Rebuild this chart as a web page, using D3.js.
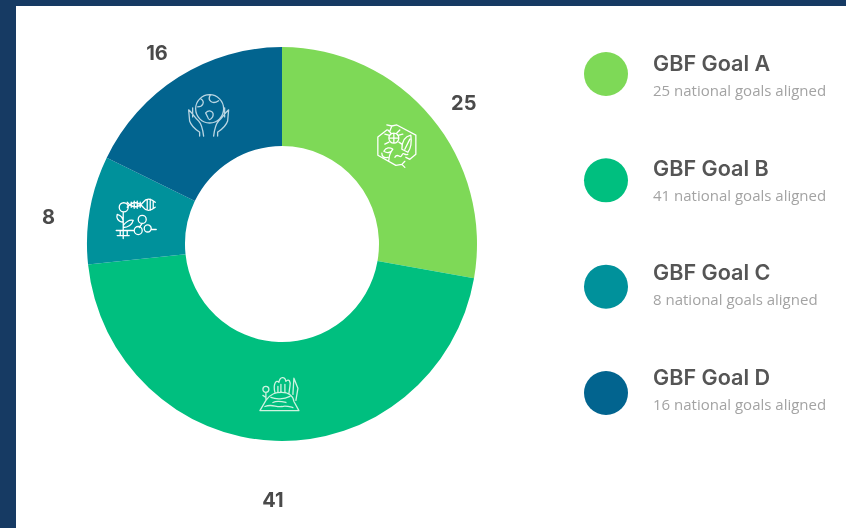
<!DOCTYPE html>
<html>
<head>
<meta charset="utf-8">
<script src="https://cdn.jsdelivr.net/npm/d3@7"></script>
<style>
    html, body { margin: 0; padding: 0; background: #fff; }
    svg { display: block; filter: blur(.4px); }
</style>
</head>
<body>
<svg id="chart" width="846" height="528"></svg>
<script>
const goals = ['GBF Goal A', 'GBF Goal B', 'GBF Goal C', 'GBF Goal D'];
const values = [25, 41, 8, 16];
const captions = ['25 national goals aligned', '41 national goals aligned', '8 national goals aligned', '16 national goals aligned'];
const colours = ['#7ed957', '#00bf7f', '#00919b', '#02648f'];

const width = 846, height = 528;
const centre = {x: 282, y: 244};
const outer = 195, inner = 97;

// line art for the slices, drawn around 0,0
const icons = [
    // hexagon with arrows, bee, leaf
    'M-5,-19 L0,-20 L19,-10 L19,9 L13,14 M-19,-8 L-19,10 L-1,20 L5,19 M-19,-8 L-10,-15 M-10,-20 L-5,-19 L-7,-14 M8,16 L5,19 L8,22 M13,14 L9,12 ' +
    'M-8,-7 a5,5 0 1 0 10,0 a5,5 0 1 0 -10,0 M-3,-12 L-3,-2 M-8,-7 L2,-7 M-6,-12 L-9,-15 M0,-12 L3,-15 M-8,-3 L-12,-1 M2,-3 L5,-1 M-8,-10 L-12,-11 M2,-10 L6,-11 ' +
    'M5,4 C5,-5 9,-9 14,-10 C15,-3 15,2 11,7 Z M8,4 L13,-6 M-13,6 C-11,2 -7,2 -4,4 C-6,8 -10,8 -13,6 Z M-8,15 C-8,10 -7,8 -4,4 M-9,12 C-13,13 -15,11 -15,8 ' +
    'M-2,12 C1,7 3,14 5,10 C7,6 8,11 11,9',
    // mound with trees
    'M-19,18 L-13,8 C-8,1 -3,0 3,0 C9,0 14,3 15,9 L20,18 Z M-8,5 C-3,7 5,7 11,4 M-14,14 C-7,11 -3,15 3,14 C7,13 10,14 14,15 M-6,10 C-2,8 3,9 7,10 ' +
    'M-4,0 C-6,-8 -3,-13 0,-10 C1,-16 6,-16 7,-11 C10,-14 12,-11 11,-6 L10,1 M14,2 L15,-14 L19,-4 L17,8 M2,-8 L2,0 M6,-8 L6,0 M-1,-6 L-1,0 ' +
    'M-16,-3 a3,3 0 1 0 6,0 a3,3 0 1 0 -6,0 M-13,0 L-13,7 M-16,3 L-13,5',
    // dna, plant, molecules
    'M-9,-17 C-4,-11 2,-11 7,-17 C10,-21 14,-21 19,-17 M-9,-12 C-4,-18 2,-18 7,-12 C10,-8 14,-8 19,-12 M-5,-17 L-5,-12 M-2,-18 L-2,-11 M1,-18 L1,-11 M4,-17 L4,-12 M11,-19 L11,-10 M14,-20 L14,-9 M17,-18 L17,-11 ' +
    'M-17,-12 a4.5,4.5 0 1 0 9,0 a4.5,4.5 0 1 0 -9,0 M-13,-7 L-13,19 M-13,3 C-19,2 -20,-2 -19,-5 C-15,-4 -13,-1 -13,3 M-13,6 C-9,1 -6,0 -3,1 C-4,5 -8,8 -13,8 M-20,11 L-3,11 M-19,16 L-7,16 M-16,11 L-16,16 M-9,11 L-9,16 ' +
    'M2,0 a4,4 0 1 0 8,0 a4,4 0 1 0 -8,0 M-2,11 a4,4 0 1 0 8,0 a4,4 0 1 0 -8,0 M8,9 a3.5,3.5 0 1 0 7,0 a3.5,3.5 0 1 0 -7,0 M15,10 L20,10 M6,4 L3,8',
    // globe held in two hands
    'M-13,-7 a14,14 0 1 0 28,0 a14,14 0 1 0 -28,0 M-8,-17 C-3,-14 -6,-9 -11,-9 M2,-21 C-2,-15 4,-11 10,-15 M-3,-3 C1,-7 6,-4 4,1 C2,4 0,5 -1,1 Z ' +
    'M-20,-6 L-19,5 C-17,11 -12,14 -9,16 L-9,20 M-20,-6 C-16,-3 -14,2 -10,5 C-7,8 -6,12 -5,20 M-16,-8 L-16,1 ' +
    'M20,-6 L19,5 C17,11 12,14 9,16 L9,20 M20,-6 C16,-3 14,2 10,5 C7,8 6,12 5,20 M16,-8 L16,1'
];
const iconStroke = ['#fff', '#cdf3e0', '#fff', '#b9d5e2'];
const iconNudge = [[3, -4], [2, 1], [-2, 1], [4, -3]];
const labelNudge = [[4, 9], [-1, -2], [-5, 13], [-2, 8]];

const svg = d3.select('#chart');

// frame
svg.append('rect').attr('width', width).attr('height', height).attr('fill', '#163a63');
svg.append('rect').attr('x', 16).attr('y', 6).attr('width', width - 16).attr('height', height - 6).attr('fill', '#fff');

const pie = d3.pie().value(d => d).sort(null);
const arcs = pie(values);
const arc = d3.arc().innerRadius(inner).outerRadius(outer);
const labelArc = d3.arc().innerRadius(232).outerRadius(232);

// source picture is stretched a little in height
const donut = svg.append('g').attr('transform', `translate(${centre.x},${centre.y}) scale(1,1.01)`);

donut.selectAll('path.slice')
    .data(arcs)
    .join('path')
    .attr('class', 'slice')
    .attr('d', arc)
    .attr('fill', (d, i) => colours[i]);

donut.selectAll('path.icon')
    .data(arcs)
    .join('path')
    .attr('class', 'icon')
    .attr('transform', (d, i) => {
        const [x, y] = arc.centroid(d);
        return `translate(${x + iconNudge[i][0]},${y + iconNudge[i][1]})`;
    })
    .attr('d', (d, i) => icons[i])
    .attr('fill', 'none')
    .attr('stroke', (d, i) => iconStroke[i])
    .attr('stroke-width', 1.3)
    .attr('stroke-linecap', 'round')
    .attr('stroke-linejoin', 'round');

// the label under the big slice sits further out than the others
donut.selectAll('text')
    .data(arcs)
    .join('text')
    .attr('transform', (d, i) => {
        const [x, y] = labelArc.centroid(d);
        return `translate(${x + labelNudge[i][0]},${y * (d.value == 41 ? 1.1 : 1) + labelNudge[i][1]})`;
    })
    .attr('text-anchor', 'middle')
    .attr('dy', '.35em')
    .attr('font-family', 'Inter, sans-serif')
    .attr('font-weight', 700)
    .attr('font-size', 20)
    .attr('fill', '#4a4a4a')
    .text(d => d.value);

// legend, the text rows are a little tighter than the dots
const y = d3.scalePoint().domain(goals).range([74, 393]);
const textY = d3.scalePoint().domain(goals).range([71, 385]);

const legend = svg.append('g')
    .selectAll('g')
    .data(goals)
    .join('g');

legend.append('circle')
    .attr('cx', 606)
    .attr('cy', d => y(d))
    .attr('r', 22)
    .attr('fill', (d, i) => colours[i]);

legend.append('text')
    .attr('x', 653)
    .attr('y', d => textY(d))
    .attr('font-family', 'Inter, sans-serif')
    .attr('font-weight', 600)
    .attr('font-size', 21.6)
    .attr('fill', '#555')
    .text(d => d);

legend.append('text')
    .attr('x', 653)
    .attr('y', d => textY(d) + 25)
    .attr('font-family', '"Open Sans", sans-serif')
    .attr('font-size', 15)
    .attr('fill', '#a3a3a3')
    .text((d, i) => captions[i]);
</script>
</body>
</html>
